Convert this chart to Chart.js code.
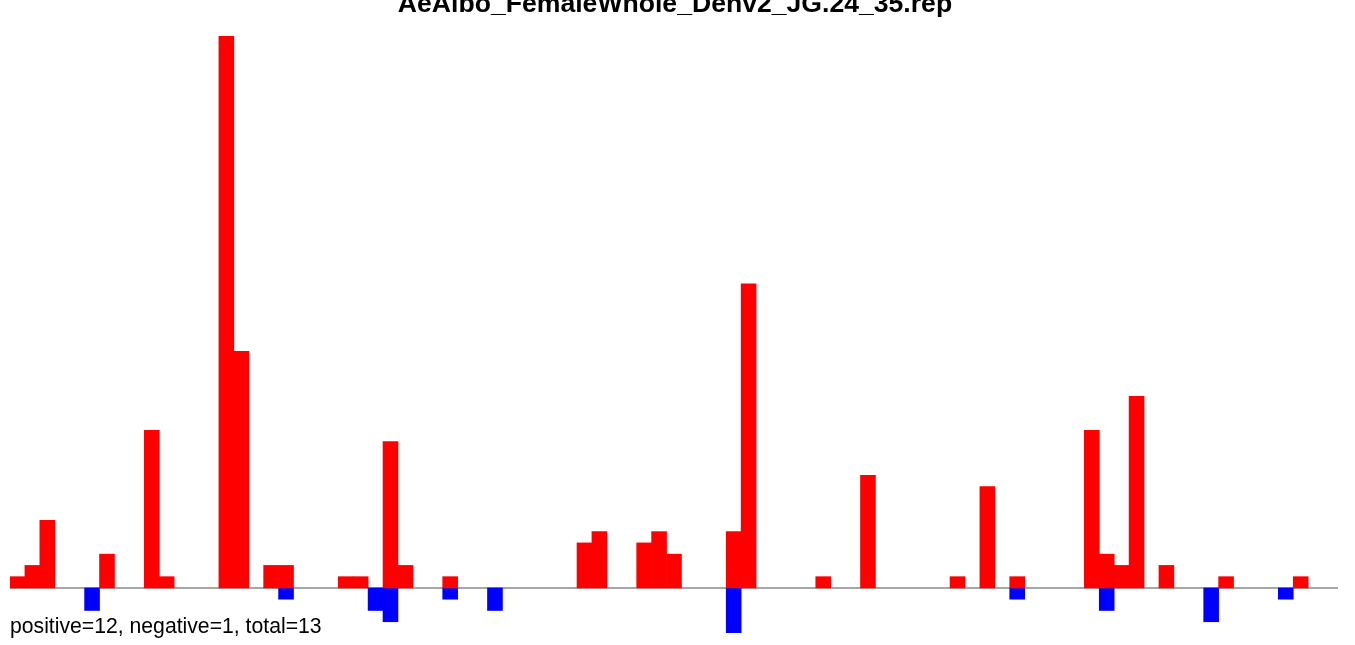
<!DOCTYPE html>
<html>
<head>
<meta charset="utf-8">
<script src="https://cdn.jsdelivr.net/npm/chart.js@4"></script>
<style>
  html, body { margin: 0; padding: 0; background: #fff; overflow: hidden; }
  #wrap { position: relative; width: 1355px; height: 645px; }
  #title {
    position: absolute; left: 0; top: -10px; width: 1350px; text-align: center;
    font: bold 26.6px "Liberation Sans", Arial, sans-serif; line-height: 1; color: #000;
  }
  #footer {
    position: absolute; left: 10px; top: 615px;
    font: 21.2px "Liberation Sans", Arial, sans-serif; line-height: 1; color: #000;
  }
</style>
</head>
<body>
<div id="wrap">
  <canvas id="chart" width="1355" height="645"></canvas>
  <div id="title">AeAlbo_FemaleWhole_Denv2_JG.24_35.rep</div>
  <div id="footer">positive=12, negative=1, total=13</div>
</div>
<script>
// one bin per slot, 89 bins along the sequence
const bins = Array.from({ length: 89 }, (_, i) => String(i + 1));

const positiveCounts = [
  1, 2, 6, 0, 0, 0, 3, 0, 0, 14,
  1, 0, 0, 0, 49, 21, 0, 2, 2, 0,
  0, 0, 1, 1, 0, 13, 2, 0, 0, 1,
  0, 0, 0, 0, 0, 0, 0, 0, 4, 5,
  0, 0, 4, 5, 3, 0, 0, 0, 5, 27,
  0, 0, 0, 0, 1, 0, 0, 10, 0, 0,
  0, 0, 0, 1, 0, 9, 0, 1, 0, 0,
  0, 0, 14, 3, 2, 17, 0, 2, 0, 0,
  0, 1, 0, 0, 0, 0, 1, 0, 0
];

const negativeCounts = [
  0, 0, 0, 0, 0, -2, 0, 0, 0, 0,
  0, 0, 0, 0, 0, 0, 0, 0, -1, 0,
  0, 0, 0, 0, -2, -3, 0, 0, 0, -1,
  0, 0, -2, 0, 0, 0, 0, 0, 0, 0,
  0, 0, 0, 0, 0, 0, 0, 0, -4, 0,
  0, 0, 0, 0, 0, 0, 0, 0, 0, 0,
  0, 0, 0, 0, 0, 0, 0, -1, 0, 0,
  0, 0, 0, -2, 0, 0, 0, 0, 0, 0,
  -3, 0, 0, 0, 0, -1, 0, 0, 0
];

// empty bins -> no bar at all (otherwise a hairline covers the zero line)
const skipZero = arr => arr.map(v => (v === 0 ? null : v));

// grey line at zero, drawn under the bars
const zeroLine = {
  id: 'zeroLine',
  beforeDatasetsDraw(chart) {
    const { ctx, chartArea, scales } = chart;
    const y = scales.y.getPixelForValue(0);
    ctx.save();
    ctx.strokeStyle = '#888';
    ctx.lineWidth = 1.5;
    ctx.beginPath();
    ctx.moveTo(chartArea.left, y);
    ctx.lineTo(chartArea.right, y);
    ctx.stroke();
    ctx.restore();
  }
};

new Chart(document.getElementById('chart'), {
  type: 'bar',
  data: {
    labels: bins,
    datasets: [
      { label: 'positive', data: skipZero(positiveCounts), backgroundColor: '#ff0000', borderWidth: 0 },
      { label: 'negative', data: skipZero(negativeCounts), backgroundColor: '#0000ff', borderWidth: 0 }
    ]
  },
  options: {
    responsive: false,
    animation: false,
    layout: { padding: { left: 10, right: 17, top: 36, bottom: 12 } },
    datasets: { bar: { barPercentage: 1, categoryPercentage: 1 } },
    plugins: { legend: { display: false }, tooltip: { enabled: false }, title: { display: false } },
    scales: {
      x: { display: false, stacked: true },
      y: { display: false, stacked: true, min: -4, max: 49 }
    }
  },
  plugins: [zeroLine]
});
</script>
</body>
</html>
